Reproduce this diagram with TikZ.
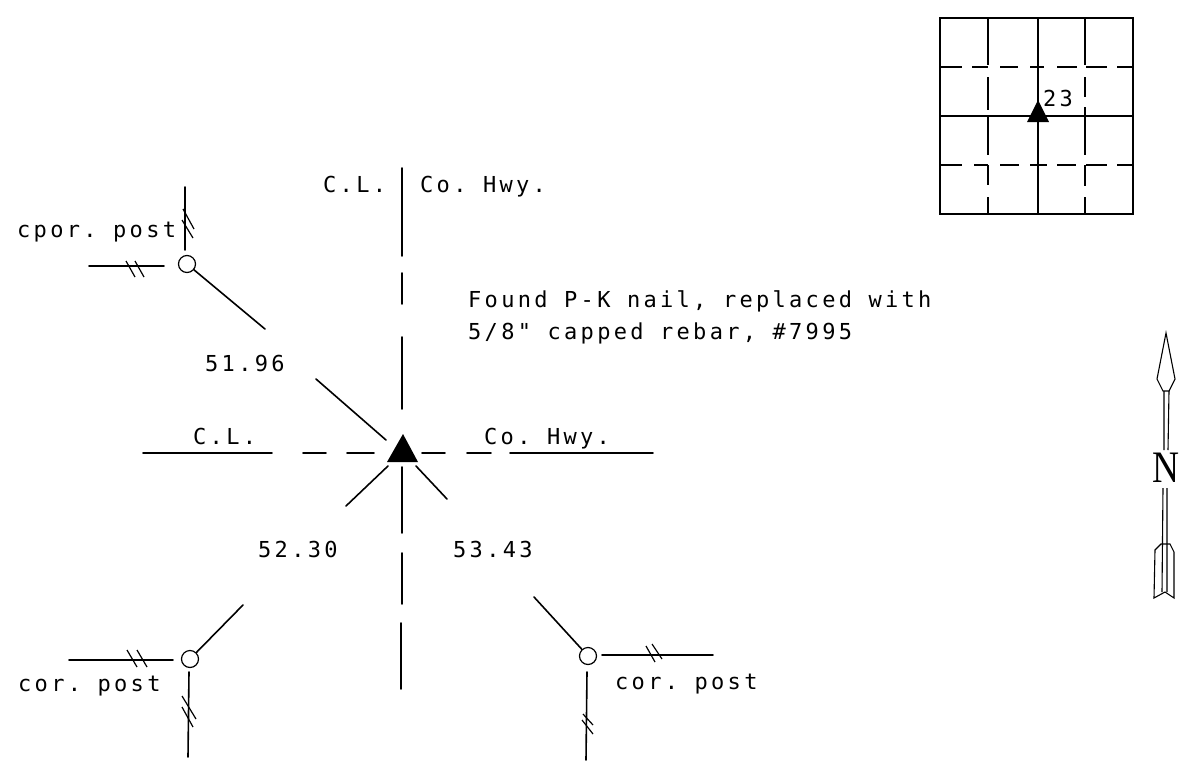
\documentclass[tikz,border=0pt]{standalone}
\usepackage{fontspec}
\setmainfont{Liberation Serif}
\newfontfamily\typed[LetterSpace=15]{DejaVu Sans Mono}
\tikzset{
  x=1pt,y=-1pt,
  ln/.style={line width=1.6pt,black,line cap=round},
  grid ln/.style={line width=1.4pt,black},
  hatch/.style={line width=1.2pt,black},
  north/.style={line width=1.1pt,black},
  post/.style={circle,draw=black,line width=1.2pt,minimum size=17pt,inner sep=0pt},
  lab/.style={font=\typed\fontsize{22pt}{28pt}\selectfont\frenchspacing,text=black,inner sep=0pt,anchor=base west,align=left},
  tri/.style={fill=black},
}
\begin{document}
\begin{tikzpicture}
\useasboundingbox (0,0) rectangle (1189,774);
% centre lines
\draw[ln] (402,168)--(402,256) (402,273)--(402,304) (402,337)--(402,409) (402,467)--(402,533) (402,553)--(402,604) (401,623)--(401,689);
\draw[ln] (143,453)--(272,453) (303,453)--(326,453) (347,453)--(374,453) (422,453)--(445,453) (467,453)--(491,453) (510,453)--(653,453);
% station
\fill[tri] (403,434)--(418,462)--(387,462)--cycle;
\node[post] (p1) at (187,264) {};
\node[post] (p2) at (190,659) {};
\node[post] (p3) at (588,656) {};
% ties
\coordinate (a1) at (265,329); \coordinate (a2) at (316,379); \coordinate (a3) at (386,440);
\draw[ln] (p1)--(a1) (a2)--(a3);
\coordinate (b1) at (243,605); \coordinate (b2) at (346,506); \coordinate (b3) at (388,466);
\draw[ln] (p2)--(b1) (b2)--(b3);
\coordinate (c1) at (534,597); \coordinate (c2) at (447,499); \coordinate (c3) at (416,466);
\draw[ln] (p3)--(c1) (c2)--(c3);
% post lines
\draw[ln] (185,187)--(185,250);
\draw[hatch] (182,220)--(193,238) (183,209)--(194,229);
\draw[ln] (89,266)--(164,266);
\draw[hatch] (126,261)--(135,277) (135,261)--(144,277);
\draw[ln] (69,660)--(173,660);
\draw[hatch] (127,650)--(137,667) (137,650)--(147,667);
\draw[ln] (189,672)--(188,757);
\draw[hatch] (182,696)--(196,719) (182,707)--(193,727);
\draw[ln] (602,655)--(713,655);
\draw[hatch] (646,646)--(655,662) (652,644)--(662,659);
\draw[ln] (587,672)--(586,760);
\draw[hatch] (582,720)--(593,734) (583,714)--(593,725);
% labels
\node[lab] (t1) at (17,237) {cpor. post};
\node[lab] (t2) at (18,691) {cor. post};
\node[lab] (t3) at (615,689) {cor. post};
\node[lab] (t4) at (323,192) {C.L.};
\node[lab] (t5) at (420,192) {Co. Hwy.};
\node[lab] (t6) at (468,307) {Found P-K nail, replaced with};
\node[lab] (t7) at (468,339) {5/8" capped rebar, \#7995};
\node[lab] (t8) at (193,444) {C.L.};
\node[lab] (t9) at (484,444) {Co. Hwy.};
\node[lab] (t10) at (205,371) {51.96};
\node[lab] (t11) at (258,557) {52.30};
\node[lab] (t12) at (453,557) {53.43};
% section grid
\draw[grid ln] (940,18) rectangle (1133,214);
\draw[grid ln] (1038,18)--(1038,214) (940,116)--(1133,116);
\draw[grid ln] (988,18)--(988,65) (988,77)--(988,110) (988,115)--(988,155) (988,165)--(988,185) (988,197)--(988,214);
\draw[grid ln] (1085,18)--(1085,65) (1085,77)--(1085,97) (1085,107)--(1085,155) (1085,165)--(1085,186) (1085,197)--(1085,214);
\draw[grid ln] (940,67)--(962,67) (972,67)--(988,67) (1000,67)--(1018,67) (1030,67)--(1044,67) (1057,67)--(1077,67) (1086,67)--(1107,67) (1117,67)--(1133,67);
\draw[grid ln] (940,165)--(962,165) (974,165)--(988,165) (1000,165)--(1019,165) (1030,165)--(1047,165) (1057,165)--(1076,165) (1086,165)--(1107,165) (1117,165)--(1133,165);
\fill[tri] (1038,100)--(1049,122)--(1027,122)--cycle;
\node[lab] (t13) at (1043,106) {23};
% north arrow
\draw[north] (1166,333)--(1157,379)--(1163,391)--(1169,391)--(1175,379)--cycle;
\draw[north] (1164,391)--(1164,450) (1169,391)--(1168,450);
\node[inner sep=0pt,xscale=.83,font=\fontsize{45pt}{45pt}\selectfont] (n) at (1166,468) {N};
\draw[north] (1163,488)--(1162,592) (1167,488)--(1167,592);
\draw[north] (1155,550)--(1161,544)--(1170,544)--(1174,552)--(1174,598)--(1165,592)--(1154,598)--cycle;
\end{tikzpicture}
\end{document}
